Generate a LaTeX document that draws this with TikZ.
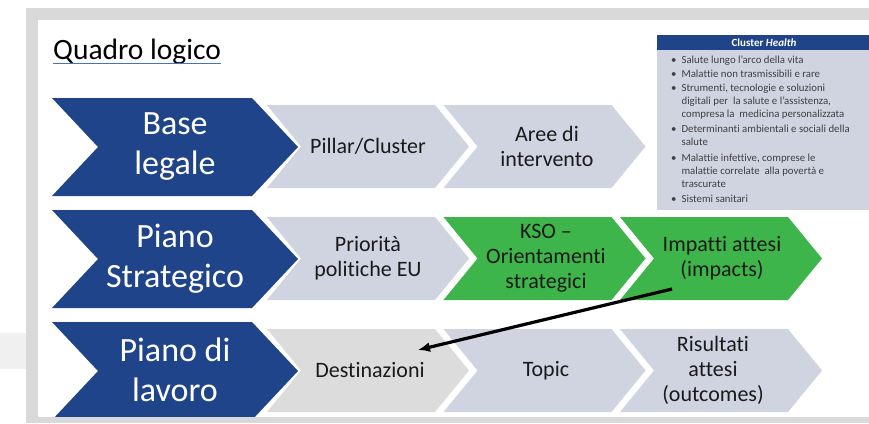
\documentclass[tikz,border=0pt]{standalone}
\usepackage{fontspec}
\setmainfont{Carlito}[Ligatures={NoCommon}]
\usetikzlibrary{arrows.meta,calc}
\definecolor{framegrey}{HTML}{D9D9D9}
\definecolor{fadegrey}{HTML}{F0F0F0}
\definecolor{navy}{HTML}{1F4489}
\definecolor{chevgrey}{HTML}{D0D3E0}
\definecolor{lightgrey}{HTML}{DCDCDC}
\definecolor{chevgreen}{HTML}{3DB54A}
\definecolor{darktext}{HTML}{1A1A1A}
\definecolor{listtext}{HTML}{404040}
\definecolor{ulblue}{HTML}{4472C4}
\newcommand\chevshape[6]{% fill, L, T, W, H, D
  \fill[#1] (#2,#3) -- ({#2+#4-#6},#3) -- ({#2+#4},{#3+#5/2}) -- ({#2+#4-#6},{#3+#5}) -- (#2,{#3+#5}) -- ({#2+#6},{#3+#5/2}) -- cycle;}
\tikzset{
  bluetext/.style={text=white, align=center, inner sep=0pt, font=\fontsize{34}{40}\selectfont},
  chevtext/.style={text=darktext, align=center, inner sep=0pt, font=\fontsize{22}{25}\selectfont},
  linkarrow/.style={line width=3.2pt, draw=black, -{Latex[length=12pt,width=10pt]}},
}
\begin{document}
\begin{tikzpicture}[x=1pt,y=-1pt]
\useasboundingbox (0,0) rectangle (869,423);
% background and frame
\fill[white] (0,0) rectangle (869,423);
\fill[fadegrey] (0,333) rectangle (26,369);
\fill[framegrey] (26,8) rectangle (869,423);
\fill[white] (38,20) rectangle (869,417);
% title
\node[anchor=base west, inner sep=0pt, font=\fontsize{29.5}{34}\selectfont, text=black] (title) at (53,59.5) {Quadro logico};
\draw[ulblue, line width=1.2pt] ([yshift=-4pt]title.base west) -- ([yshift=-4pt]title.base east);
% row 1
\chevshape{navy}{52}{98}{246}{98}{46}
\chevshape{chevgrey}{267}{105}{202}{83}{34}
\chevshape{chevgrey}{443.5}{105}{202}{83}{34}
\node[bluetext] (base) at (175,147) {Base\\legale};
\node[chevtext] (pillar) at (368,146.5) {Pillar/Cluster};
\node[chevtext] (aree) at (547,146.5) {Aree di\\intervento};
% row 2
\chevshape{navy}{52}{210}{246}{98}{46}
\chevshape{chevgrey}{267}{217}{202}{83}{34}
\chevshape{chevgreen}{443.5}{217}{202}{83}{34}
\chevshape{chevgreen}{620}{217}{202}{83}{34}
\node[bluetext] (piano) at (175,259) {Piano\\Strategico};
\node[chevtext] (prior) at (368,258.5) {Priorità\\politiche EU};
\node[chevtext] (kso) at (546,258.5) {KSO --\\Orientamenti\\strategici};
\node[chevtext] (impatti) at (722,258.5) {Impatti attesi\\(impacts)};
% row 3
\chevshape{navy}{52}{322}{246}{98}{46}
\chevshape{lightgrey}{267}{329}{202}{83}{34}
\chevshape{chevgrey}{443.5}{329}{202}{83}{34}
\chevshape{chevgrey}{620}{329}{202}{83}{34}
\node[bluetext] (lavoro) at (175,370) {Piano di\\lavoro};
\node[chevtext] (dest) at (370,370.5) {Destinazioni};
\node[chevtext] (topic) at (546,370.5) {Topic};
\node[chevtext] (risult) at (713,370.5) {Risultati\\attesi\\(outcomes)};
% bottom band over row 3
\fill[framegrey] (26,417) rectangle (869,423);
% arrow
\coordinate (arrowstart) at (672,289);
\coordinate (arrowend) at (418,350);
\draw[linkarrow] (arrowstart) -- (arrowend);
% Cluster Health box
\fill[navy] (657,35) rectangle (869,50);
\fill[chevgrey] (657,50) rectangle (869,210);
\node[text=white, inner sep=0pt, font=\fontsize{11}{12}\selectfont\bfseries] (clhead) at (764,42.5) {Cluster \textit{Health}};
\node[anchor=north west, inner sep=0pt, text=listtext, font=\fontsize{10.8}{13}\selectfont] (cllist) at (671,54) {%
\begin{tabular}{@{}l@{\hspace{5pt}}l@{}}
\textbullet & Salute lungo l'arco della vita\\[1pt]
\textbullet & Malattie non trasmissibili e rare\\[1pt]
\textbullet & Strumenti, tecnologie e soluzioni\\
 & digitali per\ \ la salute e l'assistenza,\\
 & compresa la\ \ medicina personalizzata\\[2pt]
\textbullet & Determinanti ambientali e sociali della\\
 & salute\\[3pt]
\textbullet & Malattie infettive, comprese le\\
 & malattie correlate\ \ alla povertà e\\
 & trascurate\\[2pt]
\textbullet & Sistemi sanitari
\end{tabular}};
\end{tikzpicture}
\end{document}
